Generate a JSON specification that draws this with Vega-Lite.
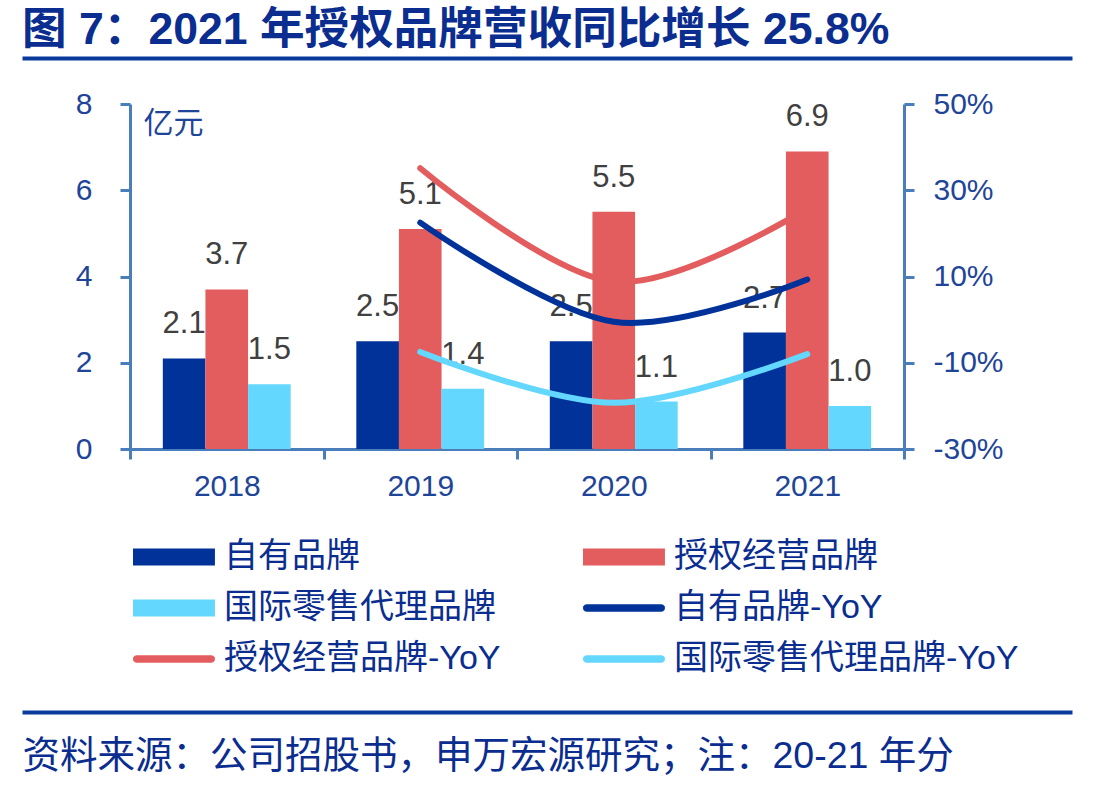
{
  "$schema": "https://vega.github.io/schema/vega-lite/v6.json",
  "autosize": {"type": "none"},
  "width": 1050,
  "height": 654,
  "padding": {"left": 22, "top": 58, "right": 45, "bottom": 75},
  "title": {
    "text": "图 7：2021 年授权品牌营收同比增长 25.8%",
    "anchor": "start",
    "frame": "group",
    "font": "Liberation Sans, Noto Sans CJK SC",
    "fontSize": 44.6,
    "fontWeight": "bold",
    "color": "#0a2d8f",
    "baseline": "alphabetic",
    "offset": -31
  },
  "config": {
    "view": {"stroke": null},
    "font": "Liberation Sans, Noto Sans CJK SC",
    "axis": {"grid": false}
  },
  "datasets": {
    "bars": [
      {"year": "2018", "series": "自有品牌", "value": 2.1},
      {"year": "2018", "series": "授权经营品牌", "value": 3.7},
      {"year": "2018", "series": "国际零售代理品牌", "value": 1.5},
      {"year": "2019", "series": "自有品牌", "value": 2.5},
      {"year": "2019", "series": "授权经营品牌", "value": 5.1},
      {"year": "2019", "series": "国际零售代理品牌", "value": 1.4},
      {"year": "2020", "series": "自有品牌", "value": 2.5},
      {"year": "2020", "series": "授权经营品牌", "value": 5.5},
      {"year": "2020", "series": "国际零售代理品牌", "value": 1.1},
      {"year": "2021", "series": "自有品牌", "value": 2.7},
      {"year": "2021", "series": "授权经营品牌", "value": 6.9},
      {"year": "2021", "series": "国际零售代理品牌", "value": 1.0}
    ],
    "yoy": [
      {"year": "2019", "series": "自有品牌-YoY", "yoy": 22.5},
      {"year": "2020", "series": "自有品牌-YoY", "yoy": -0.5},
      {"year": "2021", "series": "自有品牌-YoY", "yoy": 9.3},
      {"year": "2019", "series": "授权经营品牌-YoY", "yoy": 35.1},
      {"year": "2020", "series": "授权经营品牌-YoY", "yoy": 8.8},
      {"year": "2021", "series": "授权经营品牌-YoY", "yoy": 25.8},
      {"year": "2019", "series": "国际零售代理品牌-YoY", "yoy": -7.5},
      {"year": "2020", "series": "国际零售代理品牌-YoY", "yoy": -19.3},
      {"year": "2021", "series": "国际零售代理品牌-YoY", "yoy": -8.0}
    ]
  },
  "layer": [
    {
      "layer": [
        {
          "data": {"name": "bars"},
          "layer": [
            {
              "mark": {"type": "bar"},
              "encoding": {
                "x": {
                  "field": "year",
                  "type": "nominal",
                  "scale": {"range": [108, 882], "paddingInner": 0, "paddingOuter": 0},
                  "axis": {
                    "orient": "bottom",
                    "offset": -263,
                    "title": null,
                    "labelAngle": 0,
                    "labelFontSize": 30,
                    "labelFont": "Liberation Sans",
                    "labelColor": "#1e4598",
                    "labelPadding": 12,
                    "tickSize": 10,
                    "tickWidth": 3,
                    "tickColor": "#4a7ebb",
                    "tickBand": "extent",
                    "domainColor": "#4a7ebb",
                    "domainWidth": 3
                  }
                },
                "xOffset": {
                  "field": "series",
                  "type": "nominal",
                  "scale": {"domain": ["自有品牌", "授权经营品牌", "国际零售代理品牌"], "paddingInner": 0, "paddingOuter": 0.77}
                },
                "y": {
                  "field": "value",
                  "type": "quantitative",
                  "scale": {"domain": [0, 8], "range": [391, 46], "nice": false},
                  "axis": {
                    "orient": "left",
                    "offset": -108,
                    "values": [0, 2, 4, 6, 8],
                    "format": "d",
                    "title": "亿元",
                    "titleAngle": 0,
                    "titleAlign": "left",
                    "titleBaseline": "top",
                    "titleX": 13,
                    "titleY": 50,
                    "titleFont": "Noto Sans CJK SC",
                    "titleFontSize": 30,
                    "titleFontWeight": "normal",
                    "titleColor": "#1e4598",
                    "labelFontSize": 30,
                    "labelFont": "Liberation Sans",
                    "labelColor": "#1e4598",
                    "labelPadding": 28,
                    "tickSize": 10,
                    "tickWidth": 3,
                    "tickColor": "#4a7ebb",
                    "domainColor": "#4a7ebb",
                    "domainWidth": 3,
                    "grid": false
                  }
                },
                "color": {
                  "field": "series",
                  "type": "nominal",
                  "scale": {
                    "domain": ["自有品牌", "国际零售代理品牌", "授权经营品牌-YoY", "授权经营品牌", "自有品牌-YoY", "国际零售代理品牌-YoY"],
                    "range": ["#00329a", "#63d7fd", "#e35d5e", "#e35d5e", "#00329a", "#63d7fd"]
                  },
                  "legend": {
                    "title": null,
                    "orient": "none",
                    "legendX": 111,
                    "legendY": 482,
                    "columns": 2,
                    "columnPadding": 82,
                    "rowPadding": 17,
                    "padding": 0,
                    "symbolSize": 1156,
                    "symbolStrokeWidth": 0,
                    "labelFont": "Liberation Sans, Noto Sans CJK SC",
                    "labelFontSize": 34,
                    "labelColor": "#0a2d8f",
                    "labelOffset": 57,
                    "labelLimit": 500,
                    "encode": {
                      "symbols": {
                        "update": {
                          "shape": {"signal": "indexof(datum.value, 'YoY') >= 0 ? 'M-0.78,-0.22H3.6L3.72,-0.19L3.8,-0.11L3.82,0L3.8,0.11L3.72,0.19L3.6,0.22H-0.78L-0.9,0.19L-0.98,0.11L-1,0L-0.98,-0.11L-0.9,-0.19Z' : 'M-1,-0.5H3.82V0.5H-1Z'"},
                          "fill": {"scale": "color", "field": "value"},
                          "stroke": {"value": "transparent"}
                        }
                      }
                    }
                  }
                }
              }
            },
            {
              "mark": {"type": "text", "baseline": "alphabetic", "dy": -25, "font": "Liberation Sans", "fontSize": 31, "color": "#404040"},
              "encoding": {
                "x": {"field": "year", "type": "nominal"},
                "xOffset": {"field": "series", "type": "nominal"},
                "y": {"field": "value", "type": "quantitative", "title": "亿元"},
                "text": {"field": "value", "type": "quantitative", "format": ".1f"}
              }
            }
          ]
        },
        {
          "data": {"name": "yoy"},
          "mark": {"type": "line", "interpolate": "cardinal", "strokeWidth": 6, "strokeCap": "round"},
          "encoding": {
            "x": {"field": "year", "type": "nominal"},
            "y": {
              "field": "yoy",
              "type": "quantitative",
              "scale": {"domain": [-30, 50], "range": [391, 46], "nice": false, "zero": false},
              "axis": {
                "orient": "right",
                "offset": -168,
                "values": [-30, -10, 10, 30, 50],
                "labelExpr": "datum.value + '%'",
                "title": null,
                "labelFontSize": 30,
                "labelFont": "Liberation Sans",
                "labelColor": "#1e4598",
                "labelPadding": 19,
                "tickSize": 10,
                "tickWidth": 3,
                "tickColor": "#4a7ebb",
                "domainColor": "#4a7ebb",
                "domainWidth": 3,
                "grid": false
              }
            },
            "color": {"field": "series", "type": "nominal"}
          }
        }
      ],
      "resolve": {"scale": {"y": "independent"}}
    },
    {
      "data": {"values": []},
      "mark": {"type": "rule"},
      "encoding": {
        "x": {
          "field": "p",
          "type": "quantitative",
          "scale": {"domain": [0, 1], "nice": false},
          "axis": {
            "orient": "top",
            "ticks": false,
            "labels": false,
            "grid": false,
            "title": null,
            "domainColor": "#0a3a9c",
            "domainWidth": 4
          }
        }
      }
    },
    {
      "data": {"values": []},
      "mark": {"type": "rule"},
      "encoding": {
        "x": {
          "field": "q",
          "type": "quantitative",
          "scale": {"domain": [0, 1], "nice": false},
          "axis": {
            "orient": "bottom",
            "ticks": false,
            "labels": false,
            "grid": false,
            "domainColor": "#0a3a9c",
            "domainWidth": 4,
            "title": "资料来源：公司招股书，申万宏源研究；注：20-21 年分",
            "titleX": 0,
            "titleY": 55,
            "titleAlign": "left",
            "titleBaseline": "alphabetic",
            "titleFont": "Liberation Sans, Noto Sans CJK SC",
            "titleFontSize": 37.5,
            "titleFontWeight": "normal",
            "titleColor": "#0a2d8f"
          }
        }
      }
    }
  ],
  "resolve": {"scale": {"x": "independent"}}
}
